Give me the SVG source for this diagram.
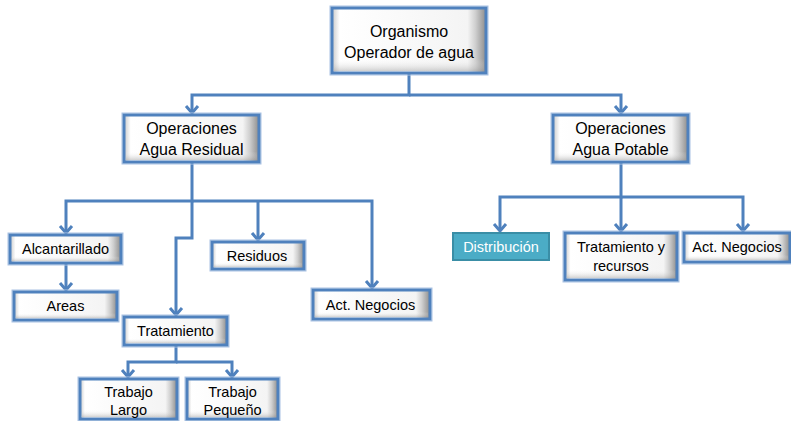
<svg xmlns="http://www.w3.org/2000/svg" width="791" height="421" viewBox="0 0 791 421">
<defs>
<linearGradient id="bevel" x1="0" y1="0" x2="1" y2="0">
<stop offset="0" stop-color="#c9c9c9"/>
<stop offset="0.05" stop-color="#ffffff"/>
<stop offset="0.88" stop-color="#f4f4f4"/>
<stop offset="0.93" stop-color="#d0d0d0"/>
<stop offset="1" stop-color="#8c8c8c"/>
</linearGradient>
<linearGradient id="vshade" x1="0" y1="0" x2="0" y2="1">
<stop offset="0" stop-color="#ffffff" stop-opacity="0"/>
<stop offset="0.8" stop-color="#ffffff" stop-opacity="0"/>
<stop offset="1" stop-color="#9a9a9a" stop-opacity="0.45"/>
</linearGradient>
<marker id="arr" markerUnits="userSpaceOnUse" markerWidth="16" markerHeight="16" viewBox="-10 -8 12 16" refX="0" refY="0" orient="auto">
<path d="M-7,-6 L0,0 L-7,6" fill="none" stroke="#4f81bd" stroke-width="3" stroke-linejoin="miter"/>
</marker>
<style>
.box{fill:url(#bevel);stroke:#4f81bd;stroke-width:3}
.sh{fill:url(#vshade);stroke:none}
.glow{fill:none;stroke:#a9c2e3;stroke-width:1}
.t{font-family:"Liberation Sans",Arial,sans-serif;font-size:14.5px;fill:#000;text-anchor:middle}
.tl{font-family:"Liberation Sans",Arial,sans-serif;font-size:16px;fill:#000;text-anchor:middle}
.c{fill:none;stroke:#4f81bd;stroke-width:3}
.dist{fill:#4bacc6;stroke:#3a8ea6;stroke-width:2}
.tw{font-family:"Liberation Sans",Arial,sans-serif;font-size:14.5px;fill:#ffffff;text-anchor:middle}
</style>
</defs>
<g id="connectors">
<path class="c" d="M409,73 V95 H192 V113" marker-end="url(#arr)"/>
<path class="c" d="M409,95 H621 V113" marker-end="url(#arr)"/>
<path class="c" d="M192,162 V201 H66 V233" marker-end="url(#arr)"/>
<path class="c" d="M192,201 H372 V288" marker-end="url(#arr)"/>
<path class="c" d="M258,201 V240" marker-end="url(#arr)"/>
<path class="c" d="M192,201 V238 H176 V315" marker-end="url(#arr)"/>
<path class="c" d="M66,263 V290" marker-end="url(#arr)"/>
<path class="c" d="M176,345 V362 H128 V377" marker-end="url(#arr)"/>
<path class="c" d="M176,362 H232 V377" marker-end="url(#arr)"/>
<path class="c" d="M621,162 V197 H500 V231" marker-end="url(#arr)"/>
<path class="c" d="M621,197 V231" marker-end="url(#arr)"/>
<path class="c" d="M621,197 H743 V231" marker-end="url(#arr)"/>
</g>
<g id="organismo">
<rect class="glow" x="330" y="6" width="158" height="69"/>
<rect class="box" x="332" y="8" width="154" height="65"/>
<rect class="sh" x="334" y="10" width="150" height="61"/>
<text class="tl" x="409" y="37">Organismo</text>
<text class="tl" x="409" y="58">Operador de agua</text>
</g>
<g id="op-residual">
<rect class="glow" x="122" y="113" width="139" height="51"/>
<rect class="box" x="124" y="115" width="135" height="47"/>
<rect class="sh" x="126" y="117" width="131" height="43"/>
<text class="tl" x="191.5" y="134">Operaciones</text>
<text class="tl" x="191.5" y="155">Agua Residual</text>
</g>
<g id="op-potable">
<rect class="glow" x="551" y="113" width="139" height="51"/>
<rect class="box" x="553" y="115" width="135" height="47"/>
<rect class="sh" x="555" y="117" width="131" height="43"/>
<text class="tl" x="620.5" y="134">Operaciones</text>
<text class="tl" x="620.5" y="155">Agua Potable</text>
</g>
<g id="alcantarillado">
<rect class="glow" x="8" y="233" width="115" height="32"/>
<rect class="box" x="10" y="235" width="111" height="28"/>
<rect class="sh" x="12" y="237" width="107" height="24"/>
<text class="t" x="65.5" y="254">Alcantarillado</text>
</g>
<g id="areas">
<rect class="glow" x="12" y="290" width="107" height="32"/>
<rect class="box" x="14" y="292" width="103" height="28"/>
<rect class="sh" x="16" y="294" width="99" height="24"/>
<text class="t" x="65.5" y="311">Areas</text>
</g>
<g id="residuos">
<rect class="glow" x="210" y="240" width="96" height="31"/>
<rect class="box" x="212" y="242" width="92" height="27"/>
<rect class="sh" x="214" y="244" width="88" height="23"/>
<text class="t" x="257" y="261">Residuos</text>
</g>
<g id="act-negocios-residual">
<rect class="glow" x="311" y="288" width="121" height="33"/>
<rect class="box" x="313" y="290" width="117" height="29"/>
<rect class="sh" x="315" y="292" width="113" height="25"/>
<text class="t" x="370.5" y="310">Act. Negocios</text>
</g>
<g id="tratamiento">
<rect class="glow" x="122" y="315" width="107" height="32"/>
<rect class="box" x="124" y="317" width="103" height="28"/>
<rect class="sh" x="126" y="319" width="99" height="24"/>
<text class="t" x="175.5" y="336">Tratamiento</text>
</g>
<g id="trabajo-largo">
<rect class="glow" x="78" y="377" width="101" height="44"/>
<rect class="box" x="80" y="379" width="97" height="40"/>
<rect class="sh" x="82" y="381" width="93" height="36"/>
<text class="t" x="128.5" y="397">Trabajo</text>
<text class="t" x="128.5" y="415">Largo</text>
</g>
<g id="trabajo-pequeno">
<rect class="glow" x="185" y="377" width="95" height="44"/>
<rect class="box" x="187" y="379" width="91" height="40"/>
<rect class="sh" x="189" y="381" width="87" height="36"/>
<text class="t" x="232.5" y="397">Trabajo</text>
<text class="t" x="232.5" y="415">Pequeño</text>
</g>
<g id="distribucion">
<rect class="dist" x="453" y="233" width="96" height="27"/>
<text class="tw" x="501" y="252">Distribución</text>
</g>
<g id="tratamiento-recursos">
<rect class="glow" x="563" y="231" width="116" height="51"/>
<rect class="box" x="565" y="233" width="112" height="47"/>
<rect class="sh" x="567" y="235" width="108" height="43"/>
<text class="t" x="621" y="252">Tratamiento y</text>
<text class="t" x="621" y="271">recursos</text>
</g>
<g id="act-negocios-potable">
<rect class="glow" x="682" y="231" width="110" height="33"/>
<rect class="box" x="684" y="233" width="106" height="29"/>
<rect class="sh" x="686" y="235" width="102" height="25"/>
<text class="t" x="737" y="252">Act. Negocios</text>
</g>
</svg>
